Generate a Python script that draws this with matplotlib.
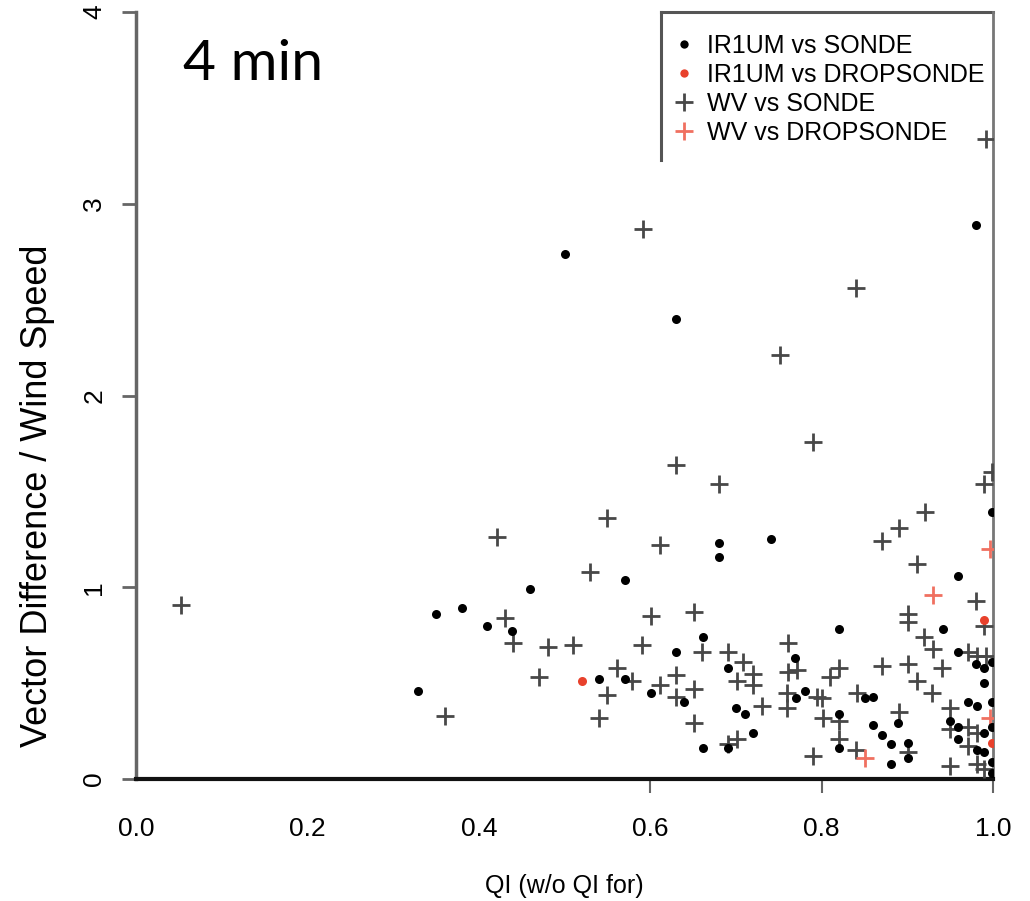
import matplotlib
matplotlib.use("Agg")
import matplotlib.pyplot as plt
from matplotlib.lines import Line2D

# ---- data ----
ir_sonde_x = [0.500, 0.630, 0.980, 0.329, 0.350, 0.380, 0.410, 0.439, 0.460, 0.571,
              0.540, 0.571, 0.601, 0.639, 0.662, 0.662, 0.630, 0.680, 0.680, 0.741,
              0.820, 0.769, 0.691, 0.781, 0.770, 0.700, 0.711, 0.720, 0.691, 0.820,
              0.820, 0.851, 0.860, 0.860, 0.870, 0.881, 0.881, 0.889, 0.901, 0.901,
              0.959, 0.942, 0.959, 0.980, 0.990, 0.999, 0.990, 0.971, 0.981, 0.999,
              0.950, 0.959, 0.959, 0.990, 0.981, 0.990, 0.999, 0.999, 0.999, 0.999]
ir_sonde_y = [2.74, 2.40, 2.89, 0.46, 0.86, 0.89, 0.80, 0.77, 0.99, 1.04,
              0.52, 0.52, 0.45, 0.40, 0.16, 0.74, 0.66, 1.23, 1.16, 1.25,
              0.78, 0.63, 0.58, 0.46, 0.42, 0.37, 0.34, 0.24, 0.16, 0.34,
              0.16, 0.42, 0.43, 0.28, 0.23, 0.18, 0.08, 0.29, 0.19, 0.11,
              1.06, 0.78, 0.66, 0.60, 0.58, 0.61, 0.50, 0.40, 0.38, 0.40,
              0.30, 0.27, 0.21, 0.24, 0.15, 0.14, 0.27, 0.09, 0.03, 1.39]

ir_drop_x = [0.520, 0.990, 0.999]
ir_drop_y = [0.51, 0.83, 0.19]

wv_sonde_x = [0.053, 0.592, 0.840, 0.751, 0.630, 0.790, 0.680, 0.550, 0.992, 0.999,
              0.989, 0.921, 0.890, 0.870, 0.911, 0.421, 0.530, 0.611, 0.430, 0.440,
              0.481, 0.510, 0.590, 0.601, 0.651, 0.470, 0.561, 0.550, 0.540, 0.360,
              0.579, 0.611, 0.630, 0.630, 0.651, 0.651, 0.901, 0.901, 0.919, 0.930,
              0.980, 0.990, 0.971, 0.981, 0.992, 0.870, 0.901, 0.940, 0.911, 0.929,
              0.950, 0.971, 0.981, 0.950, 0.950, 0.971, 0.981, 0.990, 0.890, 0.901,
              0.841, 0.840, 0.790, 0.802, 0.800, 0.810, 0.820, 0.820, 0.820, 0.760,
              0.760, 0.761, 0.771, 0.761, 0.795, 0.730, 0.720, 0.720, 0.708, 0.701,
              0.691, 0.661, 0.701, 0.691]
wv_sonde_y = [0.91, 2.87, 2.56, 2.21, 1.64, 1.76, 1.54, 1.36, 3.34, 1.60,
              1.54, 1.39, 1.31, 1.24, 1.12, 1.26, 1.08, 1.22, 0.84, 0.71,
              0.69, 0.70, 0.70, 0.85, 0.87, 0.53, 0.58, 0.44, 0.32, 0.33,
              0.51, 0.49, 0.54, 0.43, 0.47, 0.29, 0.86, 0.82, 0.74, 0.68,
              0.93, 0.80, 0.66, 0.64, 0.64, 0.59, 0.60, 0.58, 0.51, 0.45,
              0.37, 0.27, 0.24, 0.26, 0.07, 0.17, 0.08, 0.05, 0.35, 0.14,
              0.45, 0.15, 0.12, 0.32, 0.42, 0.53, 0.58, 0.30, 0.21, 0.45,
              0.37, 0.71, 0.57, 0.56, 0.43, 0.38, 0.49, 0.55, 0.61, 0.51,
              0.66, 0.66, 0.21, 0.18]

wv_drop_x = [0.930, 0.996, 0.997, 0.851]
wv_drop_y = [0.96, 1.20, 0.32, 0.11]

labels = ["IR1UM vs SONDE", "IR1UM vs DROPSONDE", "WV vs SONDE", "WV vs DROPSONDE"]
xticks = [0.0, 0.2, 0.4, 0.6, 0.8, 1.0]
xticklabels = ["0.0", "0.2", "0.4", "0.6", "0.8", "1.0"]
yticks = [0, 1, 2, 3, 4]

# ---- style ----
RED = "#e8412c"
RED_PLUS = "#f07060"
GREY_PLUS = "#484848"
FONT = "Liberation Sans"

W, H = 1030, 901
fig = plt.figure(figsize=(W / 100, H / 100), dpi=100)
ax = fig.add_axes([136 / W, 1 - 779 / H, (993 - 136) / W, (779 - 12) / H])
ax.set_xlim(0, 1)
ax.set_ylim(0, 4)

ax.plot(wv_sonde_x, wv_sonde_y, ls="none", marker="+", ms=13.5, mew=2.0,
        color=GREY_PLUS, label=labels[2], zorder=3)
ax.plot(wv_drop_x, wv_drop_y, ls="none", marker="+", ms=13.5, mew=2.0,
        color=RED_PLUS, label=labels[3], zorder=3)
ax.plot(ir_sonde_x, ir_sonde_y, ls="none", marker="o", ms=6.5, mew=0,
        color="black", label=labels[0], zorder=4)
ax.plot(ir_drop_x, ir_drop_y, ls="none", marker="o", ms=6.5, mew=0,
        color=RED, label=labels[1], zorder=4)

# spines
ax.spines["top"].set_visible(False)
ax.spines["left"].set_color("#666666")
ax.spines["left"].set_linewidth(2.5)
ax.spines["right"].set_color("#777777")
ax.spines["right"].set_linewidth(2.0)
ax.spines["bottom"].set_color("#111111")
ax.spines["bottom"].set_linewidth(3.0)

# ticks (sizes in points; 1 pt = 1.39 px at 100 dpi)
ax.set_xticks(xticks)
ax.set_xticklabels(xticklabels, fontsize=19, family=FONT)
ax.set_yticks(yticks)
ax.set_yticklabels([str(v) for v in yticks], fontsize=19, family=FONT,
                   rotation=90, va="center")
ax.tick_params(axis="x", length=10, width=1.5, color="#666666", pad=17)
ax.tick_params(axis="y", length=10, width=2, color="#666666", pad=11.5)
for i, t in enumerate(ax.xaxis.get_major_ticks()):
    if i < 3:
        t.tick1line.set_visible(False)

ax.set_xlabel("QI (w/o QI for)", fontsize=18, family=FONT, labelpad=24)
ax.set_ylabel("Vector Difference / Wind Speed", fontsize=26, family=FONT)
ax.yaxis.set_label_coords(-0.094, 0.369)

# legend box (top and left edge only)
lx = (661 - 136) / (993 - 136)
ly = (779 - 160) / (779 - 12)
ax.add_line(Line2D([lx, lx], [ly, 1.0], transform=ax.transAxes, color="#555555",
                   lw=2.2, clip_on=False))
ax.add_line(Line2D([lx, 1.0], [1.0, 1.0], transform=ax.transAxes, color="#555555",
                   lw=2.2, clip_on=False))

leg_handles = [
    Line2D([], [], ls="none", marker="o", ms=6, mew=0, color="black"),
    Line2D([], [], ls="none", marker="o", ms=6, mew=0, color=RED),
    Line2D([], [], ls="none", marker="+", ms=13, mew=2, color=GREY_PLUS),
    Line2D([], [], ls="none", marker="+", ms=13, mew=2, color=RED_PLUS),
]
leg = ax.legend(leg_handles, labels, loc="upper left",
                bbox_to_anchor=(lx - 0.002, 0.985), frameon=False,
                prop={"family": FONT, "size": 18}, handlelength=1.2,
                handletextpad=0.3, labelspacing=0.2, borderaxespad=0)

ax.text(0.055, 0.931, "4 min", transform=ax.transAxes, fontsize=41,
        family="Lato", va="center", ha="left")

fig.savefig("out.png", dpi=100)
